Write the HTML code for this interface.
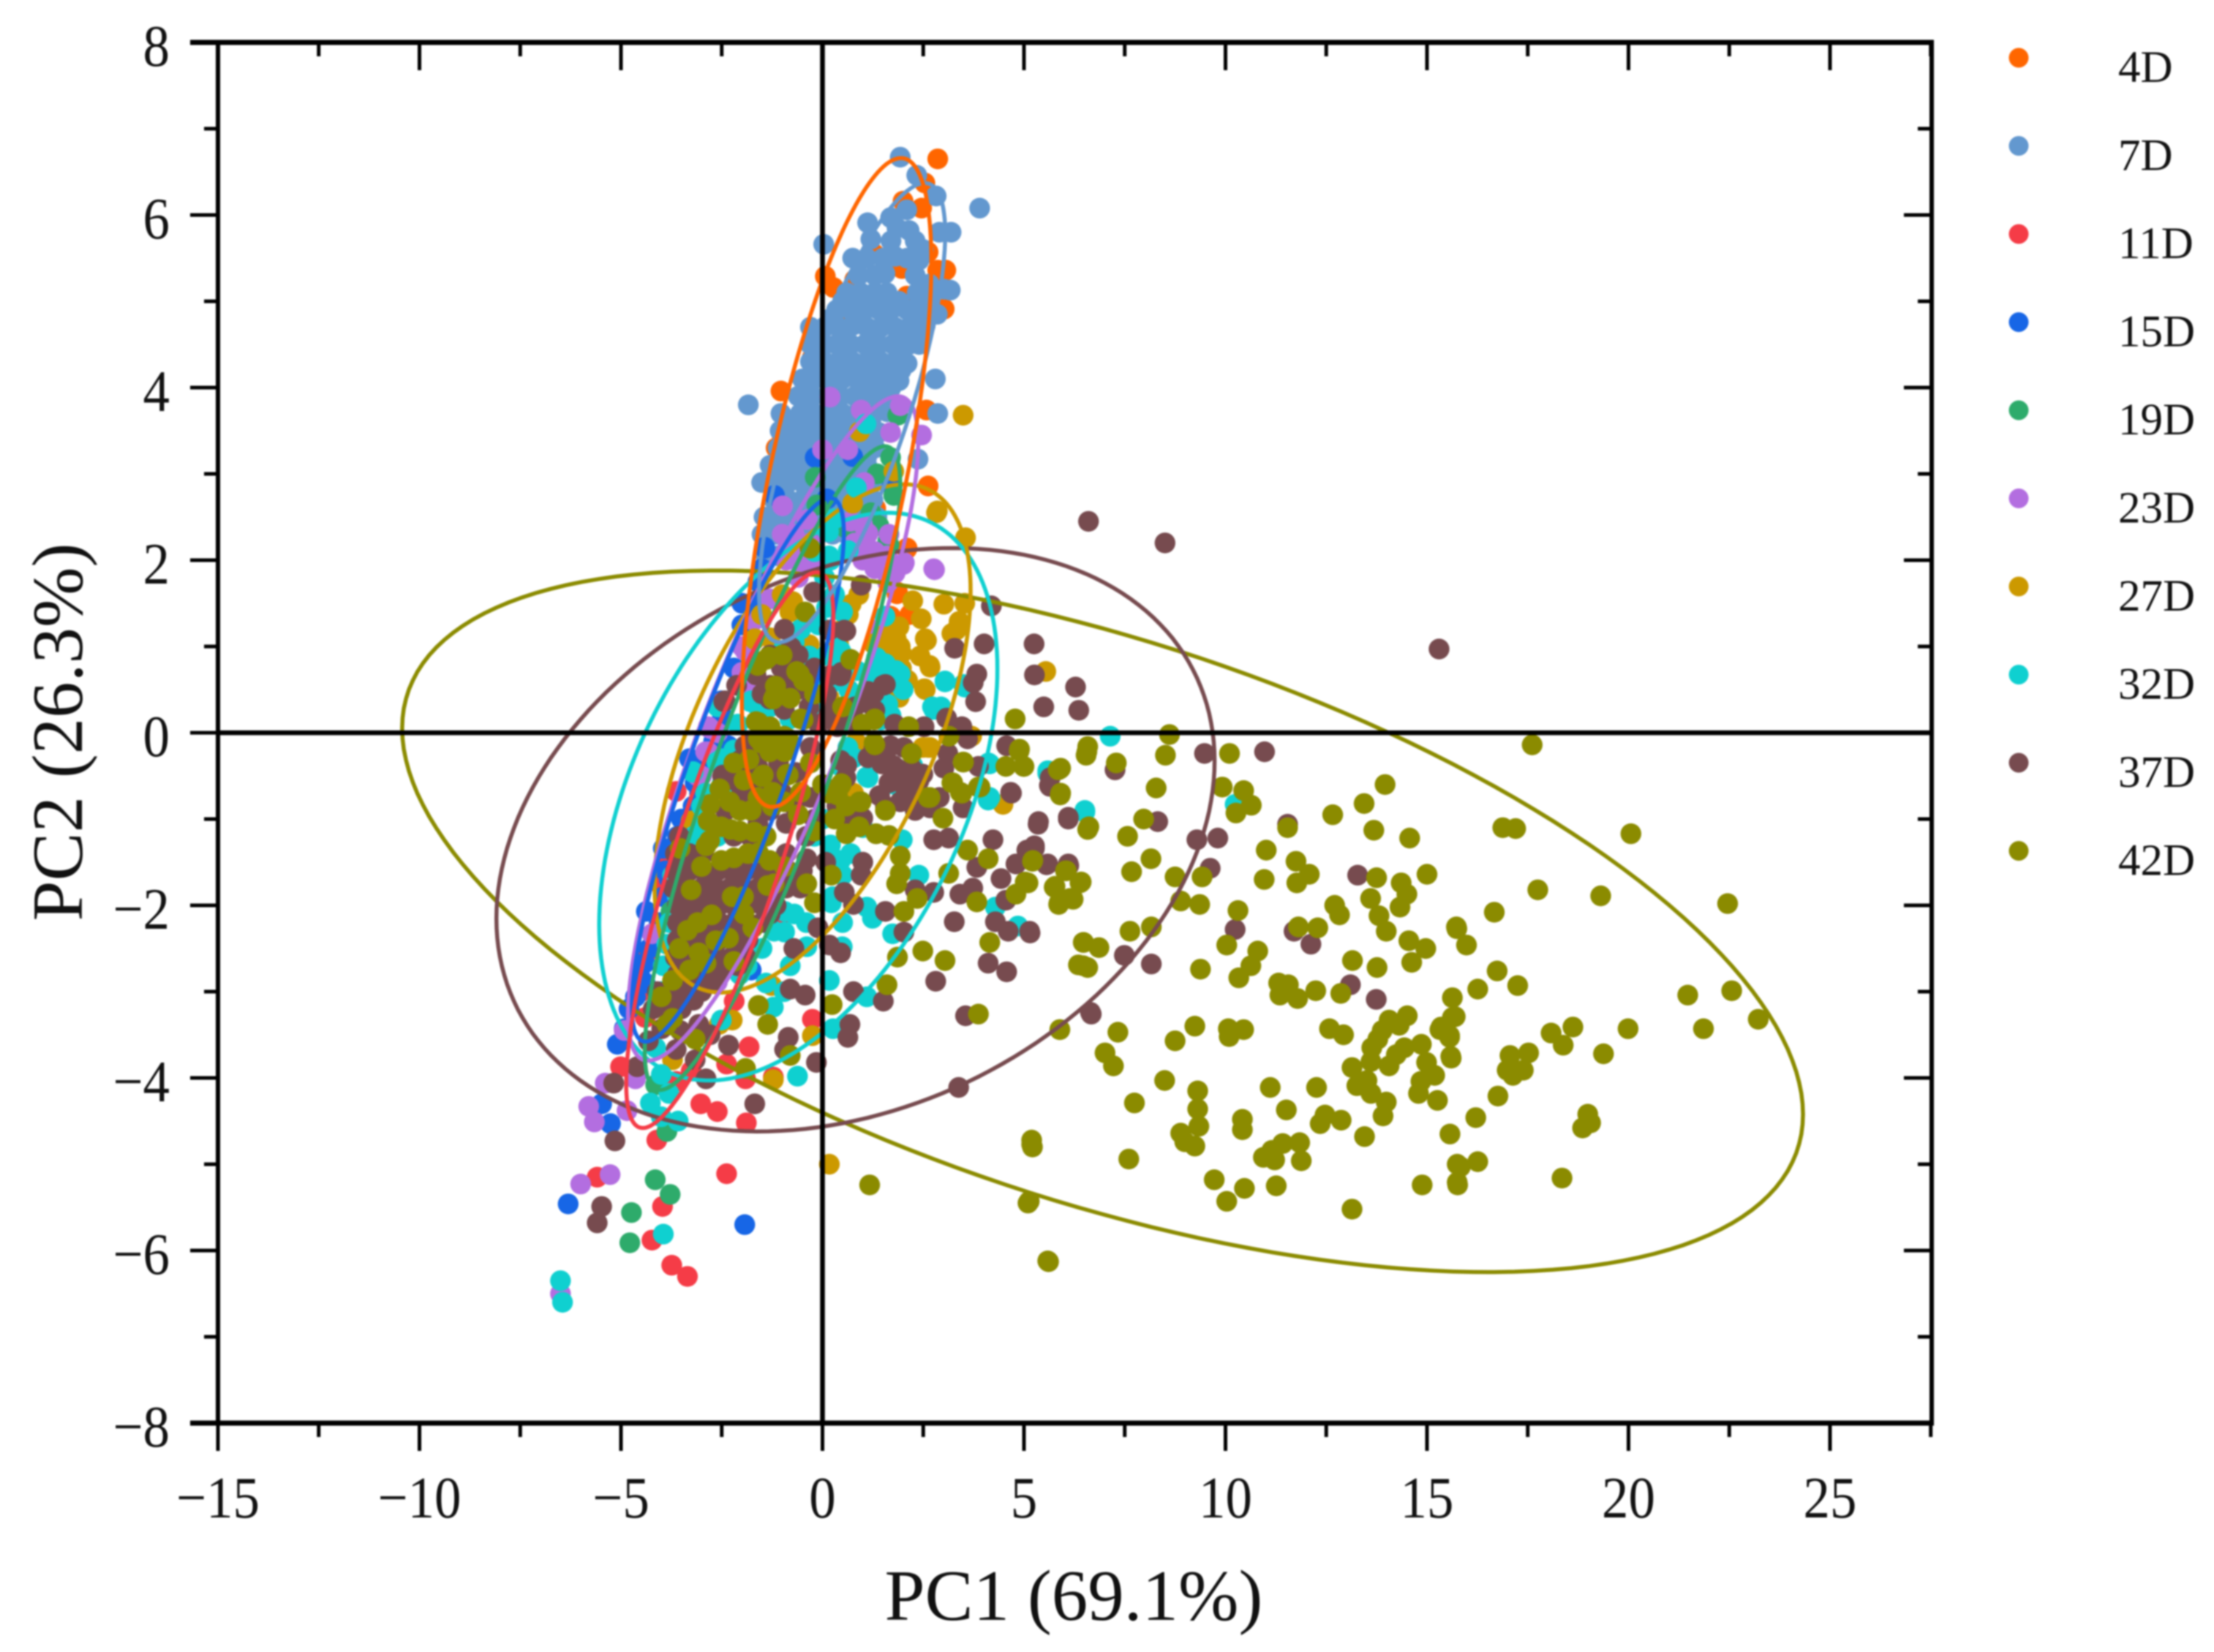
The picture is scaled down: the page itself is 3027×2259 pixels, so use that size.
<!DOCTYPE html>
<html lang="en">
<head>
<meta charset="utf-8">
<title>PCA score plot</title>
<style>
html,body{margin:0;padding:0;background:#fff;width:3027px;height:2259px;overflow:hidden}
svg{display:block;filter:blur(1.1px)}
text{font-family:"Liberation Serif",serif;fill:#111}
</style>
</head>
<body>
<svg id="chart" xmlns="http://www.w3.org/2000/svg" width="3027" height="2259" viewBox="0 0 3027 2259">
<rect x="0" y="0" width="3027" height="2259" fill="#fff"/>
<g id="points"></g>
<g id="ellipses"></g>
<g id="axes"></g>
<g id="legend"></g>
<text x="1468" y="2215" font-size="99" text-anchor="middle">PC1 (69.1%)</text>
<text transform="translate(112,1001) rotate(-90)" font-size="99" text-anchor="middle">PC2 (26.3%)</text>
</svg>
<script>
const categories = ['4D','7D','11D','15D','19D','23D','27D','32D','37D','42D'];
const seriesColors = ['#ff6600','#6398cf','#f53c47','#1766e6','#2eab6b','#b36ee0','#cc9900','#0fd0d0','#774b4f','#8b8b00'];
const xTicks = [-15,-10,-5,0,5,10,15,20,25];
const xMinorTicks = [-12.5,-7.5,-2.5,2.5,7.5,12.5,17.5,22.5,27.5];
const yTicks = [-8,-6,-4,-2,0,2,4,6,8];
const yMinorTicks = [-7,-5,-3,-1,1,3,5,7];
/* ellipse values: centre x, centre y, x half-range, y half-range, correlation */
const ellipse4D = [0.35,2.9,2.35,3.76,0.68];
const ellipse7D = [0.735,3.71,2.31,2.66,0.78];
const ellipse11D = [-2.3,-1.36,2.57,3.22,0.84];
const ellipse15D = [-2.1,-0.43,2.63,3.15,0.87];
const ellipse19D = [-1.24,-0.41,3.17,3.73,0.88];
const ellipse23D = [-1.225,0.05,3.6,3.85,0.86];
const ellipse27D = [-0.245,-0.065,3.92,2.945,0.58];
const ellipse32D = [-0.6,-0.74,4.94,3.29,0.45];
const ellipse37D = [0.82,-1.24,8.91,3.38,0.27];
const ellipse42D = [6.95,-2.185,17.38,4.065,-0.55];
/* point values: x,y pairs */
const points4D = [2.86,6.65,2.0,6.16,2.46,6.08,2.54,6.37,2.62,5.57,1.28,5.55,1.97,5.38,2.86,5.36,3.06,5.36,.8,5.25,.07,5.29,.27,5.16,2.09,5.06,3.02,4.91,.59,4.93,.59,4.7,-.18,4.63,-.26,4.34,-1.03,3.96,-.46,3.89,1.28,3.85,2.58,3.74,2.62,2.86,-1.07,2.86,-1.27,2.49,1.32,2.6,2.09,2.13,1.85,1.61,2.1,2.14,1.86,1.63,2.17,1.37,1.69,1.35,1.77,4.15,-1.3,2.46,-1.15,3.3,-1.0,3.4,2.3,4.6];
const points7D = [1.93,6.67,2.34,6.46,2.82,6.22,3.9,6.08,3.19,5.8,2.9,5.8,.03,5.66,2.09,6.06,1.69,5.97,1.12,5.91,1.2,5.72,2.15,5.82,1.85,5.85,2.3,5.7,2.5,5.6,1.7,5.7,
.75,5.5,1.1,5.5,1.5,5.5,1.8,5.52,2.1,5.5,2.4,5.48,
.9,5.3,1.3,5.3,1.55,5.32,2.3,5.3,2.65,5.2,3.02,5.14,3.17,5.13,
.6,5.1,.95,5.1,1.3,5.1,1.6,5.1,2.35,5.1,2.7,5.1,
.35,4.9,.7,4.9,1.05,4.9,1.4,4.9,1.75,4.92,2.1,4.9,2.45,4.9,2.85,4.85,
.5,5.0,1.2,5.0,1.9,5.0,2.6,5.0,
-.3,4.7,.05,4.7,.4,4.7,.75,4.72,1.1,4.7,1.45,4.7,1.8,4.7,2.15,4.7,2.55,4.72,
.2,4.8,.9,4.8,1.6,4.8,2.3,4.8,
-.3,4.5,.05,4.5,.35,4.5,.7,4.5,1.05,4.5,1.4,4.5,1.75,4.5,2.15,4.5,2.4,4.5,
-.1,4.6,.55,4.6,1.25,4.6,1.95,4.6,2.35,4.6,
-.3,4.3,.05,4.3,.4,4.3,.75,4.3,1.1,4.3,1.45,4.3,1.8,4.3,2.1,4.28,
-.15,4.4,.55,4.4,1.25,4.4,1.95,4.4,
-.5,4.1,-.2,4.1,.15,4.1,.5,4.1,.85,4.1,1.2,4.1,1.55,4.12,1.9,4.08,2.8,4.1,
-.1,4.2,.6,4.2,1.3,4.2,1.95,4.2,
-.6,3.9,-.25,3.9,.1,3.9,.45,3.9,.8,3.9,1.15,3.9,1.5,3.92,
-.35,4.0,.35,4.0,1.05,4.0,1.7,4.0,
-1.03,3.7,-.55,3.7,-.2,3.7,.15,3.7,.5,3.7,.85,3.7,1.2,3.7,1.6,3.72,-1.84,3.8,2.86,3.7,
-.4,3.8,.3,3.8,1.0,3.8,1.65,3.8,
-1.05,3.5,-.7,3.5,-.35,3.5,0,3.5,.35,3.5,.7,3.5,1.05,3.5,1.4,3.48,
-.85,3.6,-.15,3.6,.5,3.6,1.2,3.6,
-1.1,3.3,-.8,3.3,-.45,3.3,-.1,3.3,.25,3.3,.6,3.3,.95,3.3,1.3,3.3,2.37,3.17,
-.9,3.4,-.2,3.4,.5,3.4,1.2,3.4,
-1.3,3.1,-.95,3.1,-.6,3.1,-.25,3.1,.1,3.1,.45,3.1,.8,3.1,1.1,3.1,-1.07,3.06,-1.51,2.9,
-.95,3.2,-.3,3.2,.4,3.2,1.1,3.2,
-1.2,2.9,-.85,2.9,-.5,2.9,-.15,2.9,.2,2.9,.55,2.9,.9,2.9,1.25,2.9,
-1.0,3.0,-.3,3.0,.35,3.0,1.05,3.0,
-1.2,2.7,-.85,2.7,-.5,2.7,-.15,2.7,.2,2.7,.55,2.7,.9,2.7,1.25,2.7,
-1.0,2.8,-.3,2.8,.4,2.8,1.05,2.8,
-1.45,2.5,-1.1,2.5,-.75,2.5,-.4,2.5,-.05,2.5,.3,2.5,.65,2.5,1.0,2.5,1.35,2.5,
-1.0,2.6,-.3,2.6,.4,2.6,1.1,2.6,
-1.5,2.3,-1.15,2.3,-.8,2.3,-.45,2.3,-.1,2.3,.25,2.3,.6,2.3,.95,2.3,-1.4,2.05,-1.1,2.05,-.7,2.1,-1.3,2.4,-.6,2.4,.1,2.4,.8,2.4];
const points11D = [-.25,-3.32,-1.82,-3.64,-5.01,-3.87,-1.91,-4.01,-1.22,-3.99,-2.38,-3.84,-3.26,-3.92,-3.63,-4.04,-3.02,-4.3,-2.61,-4.39,-1.89,-4.52,-4.11,-4.72,-2.38,-5.11,-5.59,-5.15,-3.97,-5.49,-4.23,-5.88,-3.74,-6.17,-3.35,-6.3,-3.63,-.68,-4.37,-2.55,-2.14,-2.46,-2.19,-3.11,-1.03,-2.11,-3.81,-1.51,-4,-1.77,-4.5,-3.0,-4.4,-3.3];
const points15D = [-.18,3.19,.75,3.2,-1.19,2.75,-1.43,2.14,.11,2.71,-1.44,2.15,1.73,2.86,-.78,2.28,-2.51,.37,-3.95,-1.34,-3.21,-.85,-3.16,-.58,-3.95,-1.9,-4.37,-2.07,-4.41,-2.67,-4.64,-3.06,-5.09,-3.61,-4.92,-3.43,-5.48,-4.3,-5.26,-4.53,-6.31,-5.46,-1.93,-5.7,-1.77,-2.75,-2.34,-.15,-2.48,.19,-3,-.43,-3.3,-.3,-3.8,-1.7,-2.0,1.5,-1.6,1.75,
-1.5,1.9,-1.75,1.5,-2.0,1.25,-2.2,.75,-2.55,.1,-2.7,-.1,-3.05,-.7,-3.1,-.9,-3.5,-1.0,-3.6,-1.2,-3.9,-1.6,-4.05,-2.2,-4.3,-2.5,-4.5,-2.85,-4.8,-3.2,-4.4,-2.9];
const points19D = [1.87,3.68,1.69,3.19,1.36,3.0,1.77,2.75,-.18,2.96,-.14,2.64,.59,2.37,1.65,2.18,.64,2.36,1.62,2.22,-4.15,-5.18,-3.78,-5.35,-4.74,-5.56,-4.78,-5.91,-4.14,-4.08,-3.86,-4.62,-3.76,-2.07,1.4,2.4,1.2,2.55];
const points23D = [.19,3.89,.96,3.74,1.93,3.79,1.69,3.48,2.46,3.45,0,3.28,.63,3.28,1.04,2.9,-.99,2.63,-.38,2.47,1.08,2.33,1.08,2.18,1.65,2.3,2.01,1.95,2.78,1.89,-.54,1.96,.99,2.42,1.13,2.31,2.76,1.9,2.03,1.97,-.47,2.02,-1.92,.95,-2.83,.07,-2.9,-.22,1.62,1.74,-2.79,.05,-2.84,-.22,-4.23,-2.33,-4.92,-3.45,-5.39,-4.06,-4.64,-4.01,-5.8,-4.33,-5.66,-4.51,-4.85,-4.38,-6,-5.23,-5.27,-5.12,-1.87,.51,-2.61,-2.89,-6.5,-6.5,-.9,2.0,-.6,1.8,-1.3,1.55,-1.0,2.3,-.7,2.3,1.0,2.0,.8,2.2,1.3,1.9,-2.0,.7,-1.8,.4,-3.0,-.5,1.4,1.2,
.7,2.45,.9,2.2,1.3,2.1,-.8,2.15,-.3,2.2,-.1,1.95,1.6,2.05,1.8,1.85,-1.7,1.3,-2.0,1.0,-1.95,.7,-1.7,.5,-2.5,.35,-2.6,.0,-3.1,-.5,-3.35,-1.2,-3.5,-1.5];
const points27D = [.92,3.49,.75,2.66,1.77,3.03,3.49,3.68,2.85,2.57,3.55,2.26,2.83,2.55,2.24,1.53,3.01,1.49,3.53,1.5,2.45,1.32,3.39,1.29,3.21,1.15,2.55,1.09,2.42,.89,2.66,.78,2.55,.5,5.54,.71,.71,1.49,.64,1.37,-.74,1.52,-.81,1.4,-1.68,1.08,-1.51,1.37,1.83,1.09,1.9,1.23,1.96,.92,1.96,.75,1.96,.58,1.9,.41,1.62,.98,1.27,1.03,.85,-.12,2.62,-.17,-2.34,-.69,-.33,1.02,.4,1.03,3.7,-.04,.16,.41,.17,-5.0,4.48,-.83,-1.26,-2.93,-.25,-3.51,-1.22,-4.02,-2.24,-3.33,-3.72,-3.79,-2.56,-3.38,2.67,-.17,-1.68,1.09,-3.26,-1.02,-2.33,-.68,-2.51,-.71,1.56,1.14,1.93,1.0,1.56,.95,1.93,.75,2.11,.61,1.74,.56,2.53,.51,2.67,.76,2.58,1.07,3.32,1.19,.81,-.12,.77,-.7,2.49,-.17,.5,1.2,.9,1.6,-1.0,1.6,-1.3,1.1];
const points32D = [1.08,3.58,.84,2.84,.15,2.33,.3,2.48,.64,2.11,.16,2.05,1.55,1.35,-.54,1.2,3.04,.6,3.53,.53,-.33,.89,.85,.72,1.34,.87,1.83,.72,1.62,.33,2.73,.3,2.94,.3,.23,.58,-1.79,.36,-.81,.16,.26,.87,.58,.87,.78,-.29,1.13,-.52,1.79,-.6,4.12,-.35,5.61,-.45,4.15,-.75,-3.21,-.45,-2.62,-.34,2.24,-.38,3.04,.59,3.5,.56,2.76,.27,1.93,.68,1.56,.8,1.19,.71,1.1,-.51,.63,-.17,.45,-.39,4.11,-.78,5.59,-.44,6.51,-.9,1.98,-1.24,.45,-1.48,2.39,-1.65,.22,-1.97,1.1,-2.02,1.24,-2.15,1.74,-2.33,4.85,-2.24,4.29,-2.02,4.15,-.36,-.94,-2.31,-.39,-2.48,.49,-2.48,.17,-2.87,1.1,-3.06,-1.22,-3.18,-2.51,-3.33,.26,-3.43,-.62,-3.98,-4.14,-3.65,-4,-3.96,-3.81,-4.18,-4.27,-4.29,-4,-4.45,-3.58,-4.5,-3.21,-.46,-3.72,-1.65,-4.04,-3.09,-3.86,-2.45,-1.87,-2.7,-2.05,-2.8,-2.33,-2.7,-.94,-2.07,-1.77,.37,-2.98,-1.09,-3.07,-1.46,-3.95,-5.81,-6.5,-6.35,-6.45,-6.6,7.14,-.04,5.59,-.47,6.51,-.92,10.24,-.83,-2.5,-.3,-1.8,-.5,-.1,.55,.1,.3,.3,1.15,.5,1.4,.1,1.45,.05,1.8,-1.0,.55,-.2,.15,-2.6,.3,-2.2,-.7,
-.2,2.1,.2,2.0,.3,1.6,-.1,1.25,.1,.9,.45,.95,.65,.5,1.3,.65,1.6,.65,2.0,.5,1.45,.15,1.7,.2,-.5,.85,-.7,1.05,-1.0,.95,-1.3,.3,-1.6,.3,-2.1,.1,-2.2,-.2,-2.5,-.6,-2.9,-.7,-3.0,-.85,-2.6,-1.2,-3.2,-1.2,-3.35,-1.6,-3.6,-1.9,-3.8,-2.2,-3.95,-2.7,-4.0,-3.0,-1.5,-2.5,-1.2,-2.3,-.7,-2.1,-.4,-2.2,-.8,-2.7,-.95,-3.0,-1.4,-2.9,-.2,-1.2,.0,-1.0,.2,-1.3,.55,-.95,.8,-.9,1.0,-1.1,.7,-1.4,.5,-1.65,.25,-1.9,.5,-2.2];
const points37D = [6.6,2.45,8.5,2.2,15.3,.97,9.48,-.24,10.97,-.22,7.26,-.43,5.64,-.62,5.35,-1.06,6.1,-1.0,8.32,-1.03,11.54,-1.06,9.29,-1.24,9.81,-1.22,5.26,-1.34,5.07,-1.36,5.56,-1.53,6.11,-1.54,9.62,-1.57,13.28,-1.65,5.15,-2.32,10.24,-2.28,11.7,-2.3,12.12,-2.45,7.49,-2.58,8.16,-2.68,13.1,-2.92,13.74,-3.09,6.67,-3.26,
4.19,1.47,4.01,1.03,5.25,1.03,3.28,.98,5.26,.67,3.83,.68,3.74,.58,3.8,.36,5.49,.3,-.95,1.2,-.78,.99,.96,1.71,.58,1.18,-.22,1.63,1.3,.26,1.51,.55,1.13,.48,-2.45,.36,-2.13,.55,.47,.7,-1.02,.75,-1.65,.67,-.61,.5,-.95,.27,-.33,.3,3.08,.17,3.46,.07,3.6,-.07,1.79,.1,2.52,.07,4.57,-.15,3.11,-.24,3.01,-.41,3.87,-.39,5.65,-.52,4.67,-.69,1.41,-.73,2.9,-.75,1.13,-.29,1.69,-.15,1.76,-.38,1.96,-.55,2.24,-.69,2.49,-.48,.6,-.38,.58,-.52,-2.48,-.5,-2.06,-.52,-1.72,-.29,-1.09,-.35,-1.92,-.15,.16,.22,.37,.07,
6.28,.53,6.36,.26,.54,1.19,-2.42,.37,5.63,-.61,4.69,-.7,3.49,-.87,6.1,-.98,5.36,-1.03,2.76,-1.24,3.13,-1.22,4.23,-1.24,5.26,-1.31,4.8,-1.52,5.59,-1.52,6.1,-1.52,3.83,-1.56,4.43,-1.69,3.73,-1.8,3.41,-1.87,4.55,-1.94,3.27,-2.19,4.29,-2.19,4.61,-2.3,5.14,-2.3,2.02,-2.31,1.56,-2.07,2.3,-1.82,2.76,-1.85,.54,-1.85,.77,-1.99,4.11,-2.67,4.57,-2.77,2.81,-2.88,3.55,-3.28,6.65,-3.24,.77,-3.0,1.51,-3.11,.63,-3.53,.68,-3.38,-.85,-3.53,-.94,-3.67,-.15,-3.82,3.38,-4.11,-.8,-2.97,-.43,-3.04,-.71,-2.5,-.11,-2.26,.45,-2.55,.17,-2.46,-.39,-1.46,.08,-1.5,1.0,-1.5,.96,-1.65,1.42,-.73,1.56,-.36,
1.28,-.17,1.65,-.17,2.02,-.17,1.47,-.36,1.84,-.41,2.21,-.41,1.65,-.58,2.02,-.61,2.39,-.56,1.93,-.8,2.3,-.9,2.67,-.87,1.56,-.85,.45,-.32,.26,-.66,.36,-.85,1.0,-.99,1.33,-1.17,.63,-.99,
-5.18,-4.06,-5.15,-4.73,-5.48,-5.49,-5.59,-5.68,-1.68,-4.3,-2.33,-3.62,-2.89,-4.01,-3.16,-3.79,-3.63,-3.67,-4.6,-3.87,-4.32,-3.57,-3.99,-3.43,-3.53,-3.45,-3.07,-3.38,-2.79,-3.5,
-3.55,-1.2,-2.2,-1.2,-1.8,-1.2,-3.65,-1.4,-3.3,-1.4,-2.95,-1.4,-1.6,-1.4,-.9,-1.4,
-3.65,-1.6,-3.3,-1.6,-2.95,-1.6,-2.6,-1.6,-2.25,-1.6,-1.9,-1.6,-1.55,-1.6,-1.2,-1.6,-.85,-1.6,-.5,-1.6,
-3.7,-1.8,-3.35,-1.8,-3.0,-1.8,-2.65,-1.8,-2.3,-1.8,-1.95,-1.8,-1.6,-1.8,-1.25,-1.8,-.9,-1.8,-.55,-1.8,
-3.6,-2.0,-3.25,-2.0,-2.9,-2.0,-2.55,-2.0,-2.2,-2.0,-1.85,-2.0,-1.5,-2.0,-1.15,-2.0,
-3.6,-2.2,-3.25,-2.2,-2.9,-2.2,-2.55,-2.2,-2.2,-2.2,-1.85,-2.2,-1.5,-2.2,
-3.6,-2.4,-3.25,-2.4,-2.9,-2.4,-2.55,-2.4,-2.2,-2.4,-1.85,-2.4,
-3.65,-2.6,-3.3,-2.6,-2.95,-2.6,-2.6,-2.6,-2.25,-2.6,-1.9,-2.6,
-3.6,-2.8,-3.25,-2.8,-2.9,-2.8,-2.55,-2.8,
-4.1,-3.0,-3.7,-3.0,-3.35,-3.0,-3.0,-3.0,-4.2,-3.2,-3.85,-3.2,-3.5,-3.2,
-3.5,-1.7,-2.8,-1.7,-2.1,-1.7,-1.4,-1.7,-.7,-1.7,-3.4,-1.9,-2.7,-1.9,-2.0,-1.9,-1.3,-1.9,-3.4,-2.1,-2.7,-2.1,-2.0,-2.1,-1.3,-2.1,-3.4,-2.3,-2.7,-2.3,-2.0,-2.3,-3.4,-2.5,-2.7,-2.5,-2.0,-2.5,-3.45,-2.7,-2.75,-2.7,-2.1,-2.7,-3.4,-2.9,-2.75,-2.9,-3.85,-3.1,-3.2,-3.1,
-.6,.9,-.2,.75,-.4,.6,-.9,.55,-1.3,.55,-1.3,.9,-1.5,.45,-.1,.1,.1,.45,.65,.1,.8,.3,1.0,.35,-1.6,-.4,-2.0,-.7,-2.4,-.9,-1.0,-.7,-.7,-.85,-.3,-.75,-.2,-1.0,-.4,-1.2,-.9,-1.05,-1.3,-.9,-1.6,-1.05,
-2.47,-.49,-2.14,-.56,-.94,.32,-1.31,.39,-.85,.78,1.56,.56,1.28,.46,.17,1.19,.17,.66,.45,.66,.26,.27,-1.68,-.66,-1.22,-.56,-.66,-.46,-.3,-.17,-1.77,-.12,-2.05,-.32];
const points42D = [8.61,-.02,6.58,-.16,6.54,-.26,8.51,-.26,10.10,-.24,7.29,-.35,5.89,-.42,5.0,-.39,8.28,-.64,9.92,-.63,10.45,-.67,10.64,-.84,10.26,-.93,5.90,-.72,7.97,-1.0,6.58,-1.12,7.57,-1.2,11.54,-1.1,12.66,-.95,13.44,-.82,13.96,-.6,13.68,-1.13,14.57,-1.22,8.15,-1.46,7.67,-1.61,11.01,-1.36,10.96,-1.7,11.75,-1.49,12.08,-1.64,11.77,-1.74,8.75,-1.67,9.42,-1.67,9.36,-1.99,8.89,-1.95,15.0,-1.64,13.75,-1.68,13.6,-1.92,14.36,-1.74,14.5,-1.87,14.33,-2.02,12.71,-2.0,12.83,-2.11,13.81,-2.12,13.99,-2.3,10.31,-2.06,5.21,-1.49,6.03,-1.6,6.39,-1.74,5.75,-1.79,6.22,-1.93,5.87,-1.97,5.1,-1.74,8.16,-2.25,7.63,-2.3,6.48,-2.43,6.86,-2.49,6.35,-2.69,6.58,-2.72,11.81,-2.25,12.29,-2.26,10.03,-2.46,10.8,-2.53,10.63,-2.7,10.33,-2.84,9.38,-2.74,14.55,-2.41,14.97,-2.5,14.62,-2.66,13.15,-2.64,13.76,-2.72,15.73,-2.25,11.32,-2.9,11.56,-2.92,11.35,-3.04,11.79,-3.08,12.24,-2.99,12.86,-3.02,15.63,-3.07,14.51,-3.28,14.06,-3.33,14.31,-3.39,13.89,-3.45,13.78,-3.55,13.63,-3.65,13.61,-3.81,14.86,-3.61,14.44,-3.65,14.24,-3.73,14.06,-3.86,15.63,-3.3,15.35,-3.41,15.56,-3.51,15.59,-3.75,12.58,-3.43,12.93,-3.5,14.99,-3.82,15.19,-3.97,14.85,-4.04,14.79,-4.18,15.26,-4.26,13.14,-3.88,13.51,-4.03,13.26,-4.09,13.61,-4.18,13.99,-4.28,13.91,-4.44,9.24,-3.4,8.75,-3.57,10.07,-3.43,10.45,-3.44,10.09,-3.52,7.33,-3.47,5.89,-3.44,7.01,-3.71,7.22,-3.86,8.49,-4.03,7.74,-4.29,9.31,-4.15,9.31,-4.36,9.34,-4.56,11.11,-4.11,12.26,-4.11,11.51,-4.37,12.47,-4.43,12.35,-4.53,12.87,-4.49,10.42,-4.48,10.42,-4.6,8.89,-4.64,8.99,-4.74,9.24,-4.79,13.45,-4.68,15.57,-4.65,11.42,-4.76,11.84,-4.75,11.15,-4.84,10.94,-4.92,11.22,-4.95,11.88,-4.96,5.19,-4.72,5.21,-4.8,7.6,-4.94,9.72,-5.18,10.47,-5.28,11.26,-5.25,10.03,-5.43,13.14,-5.52,14.88,-5.24,15.75,-5.0,15.75,-5.21,5.13,-5.43,5.59,-6.12,
17.61,-.14,16.88,-1.1,17.2,-1.11,20.06,-1.17,17.75,-1.82,19.31,-1.89,22.46,-1.98,16.67,-2.08,15.74,-2.27,15.98,-2.46,16.74,-2.76,17.25,-2.93,16.26,-2.97,21.47,-3.04,22.56,-2.99,23.22,-3.32,21.86,-3.43,15.70,-3.29,15.32,-3.44,15.56,-3.53,15.6,-3.77,18.62,-3.41,18.08,-3.48,18.38,-3.62,19.99,-3.43,19.38,-3.72,17.06,-3.74,17.52,-3.71,16.99,-3.91,17.39,-3.91,17.13,-3.97,16.76,-4.21,16.21,-4.46,18.99,-4.42,19.06,-4.52,18.86,-4.58,16.26,-4.97,15.83,-5.03,15.76,-5.24,18.35,-5.16,
-.31,2.14,-.43,1.4,-1.33,.88,-1.61,.78,-.64,.71,-.47,.6,-1.16,.54,-1.2,.41,-1.65,.13,-1.3,.07,-.54,.16,1.3,.16,.99,.1,2.14,.07,4.78,.16,3.14,-.04,-1.51,-.12,-1.16,-.15,-.81,-.12,-1.3,-.04,-.95,-.04,1.3,-.14,-1.82,-.31,2.21,-.24,4.88,-.21,3.49,-.34,4.55,-.39,4.99,-.39,-1.47,-.49,-.88,-.48,.47,-.59,3.21,-.58,3.42,-.69,3.91,-.63,2.62,-.75,5.85,-.43,-1.23,-.69,-.54,-.69,.37,-.72,.92,-.8,
-1.4,.85,-1.17,.54,-1.22,.39,-.57,.68,-1.59,.12,-.48,.15,1.28,.15,-1.22,-.14,-1.59,-.07,-.85,-.07,-.94,-.22,-1.31,-.22,-.85,-.49,-1.5,-.51,.45,-.61,.17,-.7,-.2,-1.14,.96,-.8,.59,-.85,1.56,-.9,1.28,-.12,3.5,-.34,4.89,-.19,5.91,-.41,5.91,-.7,6.61,-1.09,6.56,-.22,2.67,-.75,2.99,-.99,3.23,-.58,3.46,-.7,3.87,-.63,.59,-1.17,.91,-1.09,1.33,-1.17,1.65,-1.19,1.93,-1.43,1.93,-1.63,1.84,-1.75,3.6,-1.36,4.11,-1.46,3.13,-1.63,.22,-1.65,-.39,-1.75,-.2,-1.97,5.22,-1.48,3.83,-1.96,2.35,-1.92,2.02,-2.07,5.03,-1.73,4.8,-1.87,6.05,-1.6,5.77,-1.78,6.42,-1.73,6.14,-1.92,5.86,-1.99,4.15,-2.43,6.47,-2.43,6.47,-2.7,2.49,-2.53,3.04,-2.64,1.86,-2.6,1.6,-2.92,.24,-3.15,-1.59,-3.16,-1.36,-3.38,-.8,-3.74,-1.91,-3.89,3.87,-3.26,5.89,-3.44,5.19,-4.77,1.17,-5.24,5.1,-5.45,5.61,-6.13,
-2.79,-.83,-2.05,-.9,-1.77,-.9,-2.84,-1.02,-2.28,-1.12,-2.51,-1.09,-2.05,-1.14,-3.53,-1.34,-2.89,-1.31,-2.51,-1.48,-1.59,-1.39,-1.31,-1.48,-3.26,-1.82,-2.24,-1.9,-1.96,-1.9,-1.36,-1.77,-2.75,-2.11,-3.35,-2.29,-2.65,-2.41,-2.33,-2.38,-1.73,-2.26,-3.07,-2.55,-2.89,-2.67,-3.72,-2.87,-4,-3.06,-3.72,-3.31,-3.86,-3.38,-3.16,-3.55,
-2.2,-.35,-1.95,-.55,-1.6,-.75,-1.25,-.85,-.95,-.8,-.6,-.95,-2.55,-.65,-2.3,-.8,-1.7,-1.15,-1.4,-1.2,-2.8,-1.25,-2.2,-1.45,-1.85,-1.4,-.95,-1.55,-1.2,-1.75,-3.0,-1.55,-1.95,-2.1,-2.2,-2.65,-3.1,-2.2,-3.3,-2.75,-3.55,-2.5,-1.0,.9,-.8,.4,-.2,.45,.7,.85,.5,.3,-.3,-.35,.0,-.6,.3,-1.0];

const seriesPoints = [points4D,points7D,points11D,points15D,points19D,points23D,points27D,points32D,points37D,points42D];
const seriesEllipses = [ellipse4D,ellipse7D,ellipse11D,ellipse15D,ellipse19D,ellipse23D,ellipse27D,ellipse32D,ellipse37D,ellipse42D];
const NS = 'http://www.w3.org/2000/svg';
const PX_X0 = 1124.5, PX_PER_X = 55.1, PX_Y0 = 1002, PX_PER_Y = 118;
const XMIN = -15, YMIN = -8, YMAX = 8, PLOT_RIGHT = 2641;
function sx(v){return PX_X0 + v*PX_PER_X;}
function sy(v){return PX_Y0 - v*PX_PER_Y;}
function mk(tag,attrs){const e=document.createElementNS(NS,tag);for(const k in attrs)e.setAttribute(k,attrs[k]);return e;}
function fmt(v){return v<0?'\u2212'+Math.abs(v):String(v);}

const gPoints=document.getElementById('points');
seriesPoints.forEach(function(arr,i){
  const g=mk('g',{fill:seriesColors[i]});
  
  
  for(let k=0;k<arr.length;k+=2){
    const c=mk('circle',{cx:sx(arr[k]).toFixed(1),cy:sy(arr[k+1]).toFixed(1),r:14.2});
    
    
    g.appendChild(c);
  }
  gPoints.appendChild(g);
});

const gEll=document.getElementById('ellipses');
for(let i=seriesEllipses.length-1;i>=0;i--){
  const p=seriesEllipses[i];
  let d='';
  for(let s=0;s<=180;s++){
    const t=s/180*2*Math.PI;
    const x=p[0]+p[2]*Math.cos(t);
    const y=p[1]+p[3]*(p[4]*Math.cos(t)+Math.sqrt(1-p[4]*p[4])*Math.sin(t));
    d+=(s?'L':'M')+sx(x).toFixed(1)+' '+sy(y).toFixed(1);
  }
  const e=mk('path',{d:d+'Z',fill:'none',stroke:seriesColors[i],'stroke-width':5.5});
  
  
  gEll.appendChild(e);
}

const gAxes=document.getElementById('axes');
function line(x1,y1,x2,y2,w,name){
  const l=mk('line',{x1:x1,y1:y1,x2:x2,y2:y2,stroke:'#000','stroke-width':w});
  
  
  gAxes.appendChild(l);
}
const L=sx(XMIN),T=sy(YMAX),B=sy(YMIN),R=PLOT_RIGHT;
line(L,T,L,B,6,'left-axis');
line(R,T,R,B,6,'right-axis');
line(L-38,T,R+3,T,7,'top-axis');
line(L-38,B,R+3,B,7,'bottom-axis');
line(L,sy(0),R,sy(0),6.5,'zero-line-horizontal');
line(sx(0),T,sx(0),B,6.5,'zero-line-vertical');
xTicks.forEach(function(v){
  line(sx(v),B,sx(v),B+38,5,'x-tick');
  line(sx(v),T,sx(v),T+38,5,'x-tick-top');
  const g=mk('g',{transform:'translate('+sx(v)+',2075) scale(.9,1)'});
  const t=mk('text',{x:0,y:0,'font-size':81,'text-anchor':'middle'});
  
  
  t.textContent=fmt(v);
  g.appendChild(t);gAxes.appendChild(g);
});
xMinorTicks.forEach(function(v){
  line(sx(v),B,sx(v),B+19,5,'x-minor-tick');
  line(sx(v),T,sx(v),T+19,5,'x-minor-tick-top');
});
yTicks.forEach(function(v){
  line(L-38,sy(v),L,sy(v),5,'y-tick');
  line(R-38,sy(v),R,sy(v),5,'y-tick-right');
  const g=mk('g',{transform:'translate(232,'+(sy(v)+32)+') scale(.9,1)'});
  const t=mk('text',{x:0,y:0,'font-size':81,'text-anchor':'end'});
  
  
  t.textContent=fmt(v);
  g.appendChild(t);gAxes.appendChild(g);
});
yMinorTicks.forEach(function(v){
  line(L-19,sy(v),L,sy(v),5,'y-minor-tick');
  line(R-19,sy(v),R,sy(v),5,'y-minor-tick-right');
});

const gLegend=document.getElementById('legend');
categories.forEach(function(c,i){
  const row=mk('g',{});
  
  
  const dot=mk('circle',{cx:2760,cy:79+i*120.5,r:13.5,fill:seriesColors[i]});
  
  
  const t=mk('text',{x:2896,y:112+i*120.5,'font-size':61});
  
  
  t.textContent=c;
  row.appendChild(dot);row.appendChild(t);gLegend.appendChild(row);
});
</script>
</body>
</html>
